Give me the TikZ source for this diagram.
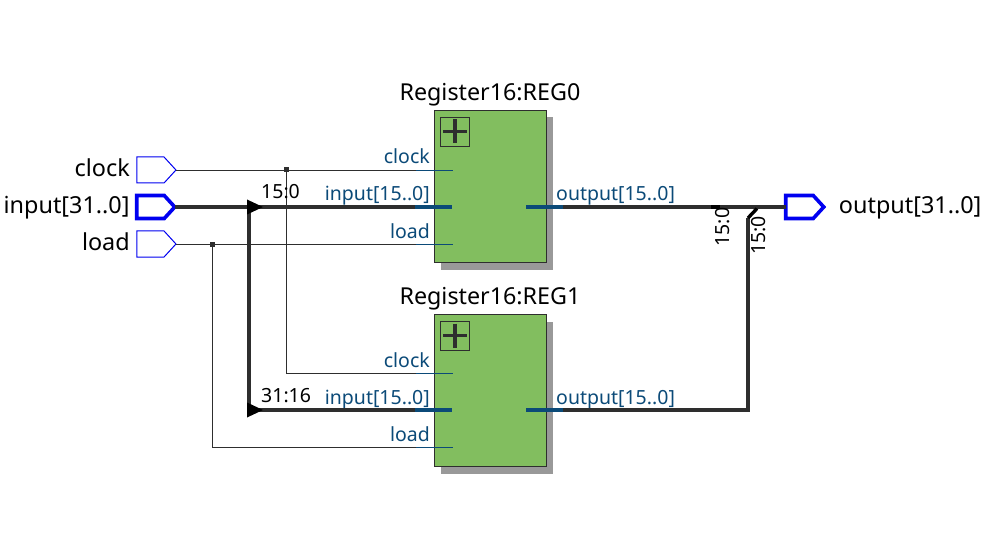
\documentclass[tikz,border=0pt]{standalone}
\usepackage{fontspec}
\setmainfont{Noto Sans}
\usetikzlibrary{positioning,calc,shapes.symbols,shapes.geometric}
\definecolor{wirecol}{HTML}{2E2E2E}
\definecolor{portcol}{HTML}{0B4A78}
\definecolor{blockcol}{HTML}{82BE5F}
\definecolor{shadowcol}{HTML}{999999}
\definecolor{pincol}{HTML}{0000F0}
\begin{document}
\begin{tikzpicture}[x=1pt,y=-1pt,
				pin/.style={shape=signal,signal to=east,signal from=nowhere,signal pointer angle=95,draw=pincol,fill=white,line width=1pt,minimum width=39pt,minimum height=26pt,inner sep=0pt,outer sep=0pt},
				buspin/.style={pin,line width=3.6pt,minimum width=38pt,minimum height=23pt},
				pinlabel/.style={font=\fontsize{23.4}{26}\selectfont,inner sep=0pt,text=black,text height=19pt,text depth=5pt},
				block/.style={draw=wirecol,fill=blockcol,line width=.9pt,minimum width=112pt,minimum height=152pt,inner sep=0pt,outer sep=0pt},
				shadowbox/.style={fill=shadowcol,minimum width=112pt,minimum height=152pt,inner sep=0pt,outer sep=0pt},
				title/.style={font=\fontsize{23.3}{26}\selectfont,inner sep=0pt,text height=17pt,text depth=5pt},
				portlabel/.style={font=\fontsize{19.5}{22}\selectfont,text=portcol,inner sep=0pt},
				plusbox/.style={draw=wirecol,line width=.8pt,minimum size=29pt,inner sep=0pt},
				buslabel/.style={font=\fontsize{19.5}{22}\selectfont,inner sep=0pt,text=black},
				wire/.style={draw=wirecol,line width=.9pt},
				bus/.style={draw=wirecol,line width=4pt},
				portwire/.style={draw=portcol,line width=.9pt},
				portbus/.style={draw=portcol,line width=4pt},
				dot/.style={fill=wirecol,minimum size=5pt,inner sep=0pt,outer sep=0pt},
				ripper/.style={fill=black,shape=isosceles triangle,isosceles triangle apex angle=50,isosceles triangle stretches,inner sep=0pt,minimum width=15pt,minimum height=16pt,outer sep=0pt}]
				\useasboundingbox (0,0) rectangle (992,545);

				\node (SH0) [shadowbox] at (497,193.5) {};
				\node (SH1) [shadowbox] at (497,397.5) {};
				\node (REG0) [block] at (490,186.5) {};
				\node (REG1) [block] at (490,390.5) {};
				\node (T0) [title,above=4.5pt of REG0] {Register16:REG0};
				\node (T1) [title,above=4.5pt of REG1] {Register16:REG1};

				\node (PCLK)  [pin]    at (150.5,170) {};
				\node (PIN)   [buspin] at (150.5,207) {};
				\node (PLOAD) [pin]    at (150.5,244) {};
				\node (POUT)  [buspin] at (799.5,207) {};
				\node (LCLK)  [pinlabel,left=7pt of PCLK]  {clock};
				\node (LIN)   [pinlabel,left=7pt of PIN]   {input[31..0]};
				\node (LLOAD) [pinlabel,left=7pt of PLOAD] {load};
				\node (LOUT)  [pinlabel,right=15pt of POUT] {output[31..0]};

				% ports of the two blocks
				\foreach \r/\ya/\yb/\yc in {0/170/207/244,1/373/410/447}{
					\coordinate (CK\r) at (453,\ya);
					\coordinate (IN\r) at (452,\yb);
					\coordinate (INS\r) at (415,\yb);
					\coordinate (LD\r) at (453,\yc);
					\coordinate (OUT\r) at (526,\yb);
					\coordinate (OUTE\r) at (563,\yb);
					\node [plusbox] (PB\r) at ($(REG\r.north west)+(21,21)$) {};
					\draw [draw=wirecol,line width=3.6pt] ($(PB\r.center)+(-12,0)$) -- ($(PB\r.center)+(12,0)$)
						($(PB\r.center)+(0,-12)$) -- ($(PB\r.center)+(0,12)$);
					\node [portlabel,anchor=base east] at (430,\ya-6) {clock};
					\node [portlabel,anchor=base east] at (430,\yb-6) {input[15..0]};
					\node [portlabel,anchor=base east] at (430,\yc-6) {load};
					\node [portlabel,anchor=base west] at (556,\yb-6) {output[15..0]};
				}

				\coordinate (JCLK) at (286.5,170);
				\coordinate (JLOAD) at (212.5,244);
				\coordinate (BUSA) at (248.5,207);
				\coordinate (BUSB) at (248.5,410);
				\coordinate (BEND) at (748,410);
				\coordinate (BTOP) at (748,218);
				\coordinate (BTIP) at (757,208.5);

				\draw [wire] (PCLK.east) -- (CK0);
				\draw [wire] (JCLK) |- (CK1);
				\draw [wire] (PLOAD.east) -- (LD0);
				\draw [wire] (JLOAD) |- (LD1);
				\draw [bus] (PIN.east) -- (INS0);
				\draw [bus] (BUSA) -- (BUSB) -- (INS1);
				\draw [bus] (OUTE0) -- (POUT.west);
				\draw [bus] (OUTE1) -- (BEND) -- (BTOP);
				\draw [draw=black,line width=3.4pt] (BTOP) -- (BTIP);
				\draw [draw=black,line width=4pt] (711,207) -- (720,207);

				\foreach \r in {0,1}{
					\draw [portwire] ($(CK\r)+(-37,0)$) -- (CK\r);
					\draw [portwire] ($(LD\r)+(-37,0)$) -- (LD\r);
					\draw [portbus] (INS\r) -- (IN\r);
					\draw [portbus] (OUT\r) -- (OUTE\r);
				}

				\node (DCLK) [dot] at (JCLK) {};
				\node (DLOAD) [dot] at (JLOAD) {};
				\node (RA) [ripper,anchor=lower side] at (247,207) {};
				\node (RB) [ripper,anchor=lower side] at (247,410) {};

				\node (S0) [buslabel,anchor=base west] at (261,199) {15:0};
				\node (S1) [buslabel,anchor=base west] at (261,402) {31:16};
				\node (S2) [buslabel,rotate=90,anchor=center] at (723,227) {15:0};
				\node (S3) [buslabel,rotate=90,anchor=center] at (759,235.5) {15:0};
			\end{tikzpicture}
\end{document}
